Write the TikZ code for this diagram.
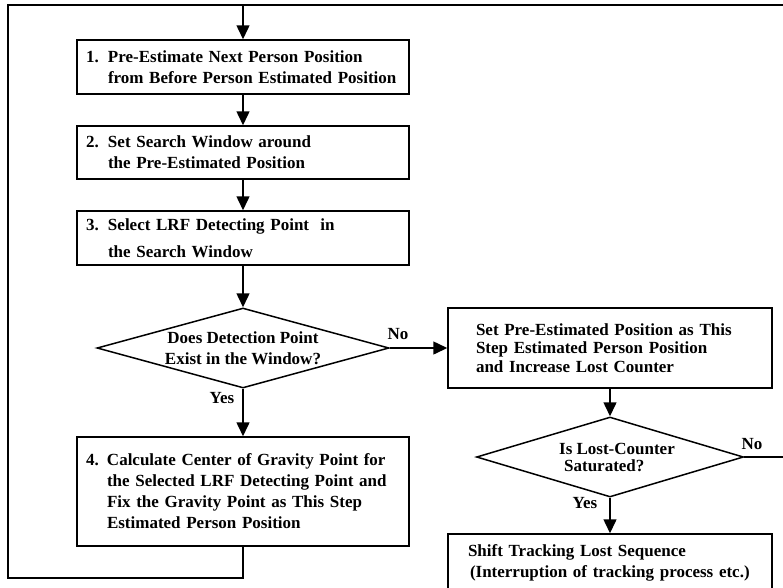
\documentclass[tikz,border=0pt]{standalone}
\usepackage{fontspec}
\setmainfont{Liberation Serif}
\usetikzlibrary{arrows.meta,shapes.geometric}
\begin{document}
\begin{tikzpicture}[x=1pt,y=-1pt,
  line width=1.5pt,
  txt/.style={font=\fontsize{17}{21}\selectfont\bfseries},
  stepbox/.style={draw, rectangle, txt, align=left, inner ysep=0pt},
  lbox/.style={stepbox, minimum width=332pt, inner xsep=9pt, text width=314pt},
  rbox/.style={stepbox, minimum width=324pt},
  decision/.style={draw, diamond, txt, inner sep=0pt, aspect=3.6},
  arr/.style={-{Triangle[length=14pt,width=13pt]}},
  lab/.style={txt, inner sep=0pt}
]
\clip (0,0) rectangle (783,587);
\fill[white] (0,0) rectangle (783,587);

\node[lbox, minimum height=54pt] (b1) at (243,67)
  {\makebox[22pt][l]{1.}Pre-Estimate Next Person Position\\\hspace*{22pt}from Before Person Estimated Position};
\node[lbox, minimum height=53pt] (b2) at (243,152.5)
  {\makebox[22pt][l]{2.}Set Search Window around\\\hspace*{22pt}the Pre-Estimated Position};
\node[lbox, minimum height=54pt] (b3) at (243,238)
  {\makebox[22pt][l]{3.}Select LRF Detecting Point\ \ in\\[6pt]\hspace*{22pt}the Search Window};
\node[decision, minimum width=292pt, minimum height=80pt, align=center] (d1) at (243,348)
  {Does Detection Point\\Exist in the Window?};
\node[lbox, minimum height=109pt] (b4) at (243,491.5)
  {\makebox[21pt][l]{4.}Calculate Center of Gravity Point for\\\hspace*{21pt}the Selected LRF Detecting Point and\\\hspace*{21pt}Fix the Gravity Point as This Step\\\hspace*{21pt}Estimated Person Position};

\node[rbox, minimum height=80pt, inner xsep=28pt, text width=268pt,
  font=\fontsize{17}{18.5}\selectfont\bfseries] (r1) at (610,348)
  {Set Pre-Estimated Position as This\\Step Estimated Person Position\\and Increase Lost Counter};
\node[decision, minimum width=267pt, minimum height=80pt, align=left,
  font=\fontsize{17}{17}\selectfont\bfseries] (d2) at (610,457)
  {\hspace*{14pt}Is Lost-Counter\\\hspace*{19pt}Saturated?};
\node[rbox, minimum height=58pt, inner xsep=20pt, text width=284pt] (br) at (610,563)
  {Shift Tracking Lost Sequence\\\hspace*{2pt}(Interruption of tracking process etc.)};

\node[lab] (no1) at (398,334) {No};
\node[lab] (yes1) at (222,398) {Yes};
\node[lab] (no2) at (752,444) {No};
\node[lab] (yes2) at (585,503) {Yes};

\coordinate (c1) at (243,578);
\coordinate (c2) at (8,578);
\coordinate (c3) at (8,5);
\coordinate (c4) at (243,5);
\coordinate (c5) at (788,5);
\coordinate (c6) at (788,457);

\draw[arr] (b1) -- (b2);
\draw[arr] (b2) -- (b3);
\draw[arr] (b3) -- (d1);
\draw[arr] (d1) -- (b4);
\draw[arr] (d1) -- (r1);
\draw[arr] (r1) -- (d2);
\draw[arr] (d2) -- (br);
\draw[arr] (b4) -- (c1) -- (c2) -- (c3) -- (c4) -- (b1);
\draw (d2) -- (c6) -- (c5) -- (c4);
\end{tikzpicture}
\end{document}
